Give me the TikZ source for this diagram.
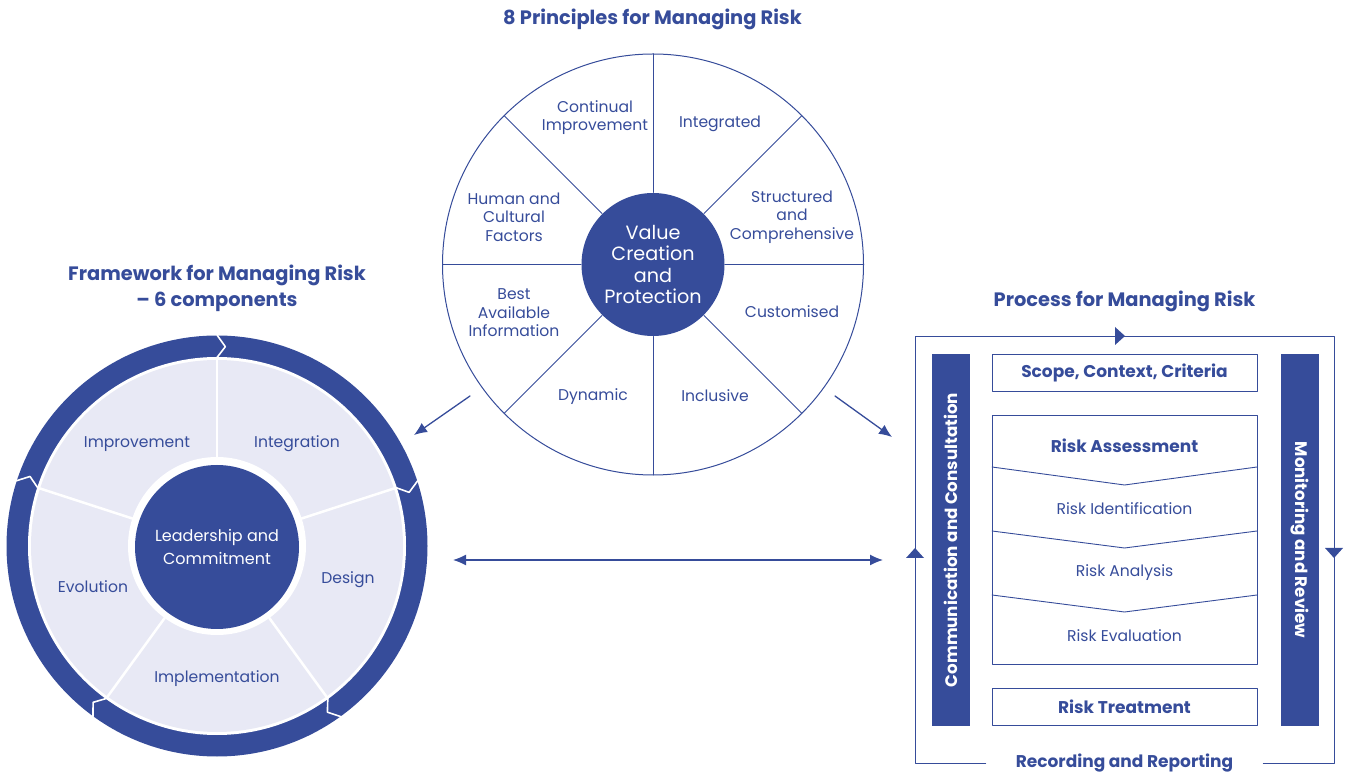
\documentclass[tikz,border=0pt]{standalone}
\usepackage{fontspec}
\setmainfont{Poppins}
\usetikzlibrary{arrows.meta}
\definecolor{riskblue}{RGB}{54,76,154}
\definecolor{risklight}{RGB}{232,233,245}

\begin{document}
\begin{tikzpicture}[x=1pt,y=1pt,line cap=round,line join=round,>={Latex[length=13pt,width=11pt]},
  txt/.style={text=riskblue,font=\fontsize{15.6}{18.5}\selectfont,align=center,inner sep=0pt},
  head/.style={text=riskblue,font=\fontsize{19.4}{26.5}\selectfont\bfseries,align=center,inner sep=0pt},
  boxtxt/.style={text=riskblue,font=\fontsize{17}{18}\selectfont\bfseries,inner sep=0pt},
  stagebox/.style={draw=riskblue,line width=0.9pt,minimum width=265,minimum height=37,inner sep=0pt},
  bar/.style={fill=riskblue,text=white,font=\fontsize{16.7}{18}\selectfont\bfseries,minimum width=372,minimum height=38,inner sep=0pt},
  hub/.style={circle,fill=riskblue,text=white,align=center,inner sep=0pt},
  link/.style={draw=riskblue,line width=1.3pt}]
  \useasboundingbox (0,0) rectangle (1349,774);

  % framework wheel
  \begin{scope}[shift={(217,228)}]
    \fill[riskblue] (0,0) circle[radius=210.5];
    \fill[white] (0,0) circle[radius=189];
    \fill[risklight] (0,0) circle[radius=186];
    \fill[white] (0,0) circle[radius=89];
    \foreach \a in {90,18,-54,-126,162} {
      \draw[white,line width=2.5pt] (\a:89) -- (\a:188);
      \draw[white,line width=1.6pt] (\a:211) -- (\a-2.4:199.5) -- (\a:188.5);
    }
    \node[hub,minimum size=164,font=\fontsize{16}{23}\selectfont] (lead) at (0,-1) {Leadership and\\Commitment};
  \end{scope}
  \node[txt] (improv) at (137,330) {Improvement};
  \node[txt] (integr) at (297,330) {Integration};
  \node[txt] (evol) at (93,187) {Evolution};
  \node[txt] (design) at (348,194.5) {Design};
  \node[txt] (impl) at (217,95.5) {Implementation};
  \node[head] (frame) at (217,485.5) {Framework for Managing Risk\\– 6 components};

  % principles wheel
  \begin{scope}[shift={(653,509.5)}]
    \draw[riskblue,line width=1pt] (0,0) circle[radius=210.5];
    \foreach \a in {0,45,...,315}
      \draw[riskblue,line width=1pt] (\a:72) -- (\a:210.5);
    \node[hub,minimum size=143,font=\fontsize{19.2}{21.5}\selectfont] (value) at (0,0) {Value\\Creation\\and\\Protection};
  \end{scope}
  \node[txt] (cont) at (595,656.5) {Continual\\Improvement};
  \node[txt] (integ) at (720,650) {Integrated};
  \node[txt] (human) at (514,557) {Human and\\Cultural\\Factors};
  \node[txt] (struc) at (792,557) {Structured\\and\\Comprehensive};
  \node[txt] (best) at (514,461) {Best\\Available\\Information};
  \node[txt] (custom) at (792,462) {Customised};
  \node[txt] (dyn) at (593,377) {Dynamic};
  \node[txt] (incl) at (715,378) {Inclusive};
  \node[head] (princ) at (652.5,755) {8 Principles for Managing Risk};

  % process
  \node[head] (proc) at (1124.5,473) {Process for Managing Risk};
  \node[boxtxt,inner xsep=30pt] (record) at (1124.5,11) {Recording and Reporting};
  \draw[riskblue,line width=0.9pt] (record.west) -- (915,11) -- (915,438) -- (1334,438) -- (1334,11) -- (record.east);
  \fill[riskblue] (1125,438) -- (1115,447) -- (1115,429) -- cycle;
  \fill[riskblue] (915,226) -- (906,216) -- (924,216) -- cycle;
  \fill[riskblue] (1334,216) -- (1325,226) -- (1343,226) -- cycle;
  \node[bar,rotate=90] (comm) at (951,234) {Communication and Consultation};
  \node[bar,rotate=-90] (monit) at (1300,234) {Monitoring and Review};
  \node[stagebox,boxtxt] (scope) at (1124.5,401) {Scope, Context, Criteria};
  \node[stagebox,minimum height=249] (assess) at (1124.5,234.5) {};
  \draw[riskblue,line width=0.9pt] (992,307) -- (1124.5,289) -- (1257,307);
  \draw[riskblue,line width=0.9pt] (992,243) -- (1124.5,226) -- (1257,243);
  \draw[riskblue,line width=0.9pt] (992,179) -- (1124.5,162) -- (1257,179);
  \node[boxtxt] (asstxt) at (1124.5,328) {Risk Assessment};
  \node[txt] (ident) at (1124.5,265) {Risk Identification};
  \node[txt] (analys) at (1124.5,201) {Risk Analysis};
  \node[txt] (evalu) at (1124.5,138) {Risk Evaluation};
  \node[stagebox,boxtxt] (treat) at (1124.5,67.5) {Risk Treatment};

  % links between the three parts
  \coordinate (pl) at (470,378);
  \coordinate (fw) at (414,339);
  \coordinate (pr) at (835,378);
  \coordinate (pc) at (892,337);
  \coordinate (fr) at (453,214);
  \coordinate (pg) at (883,214);
  \draw[link,->] (pl) -- (fw);
  \draw[link,->] (pr) -- (pc);
  \draw[link,<->] (fr) -- (pg);
\end{tikzpicture}
\end{document}
